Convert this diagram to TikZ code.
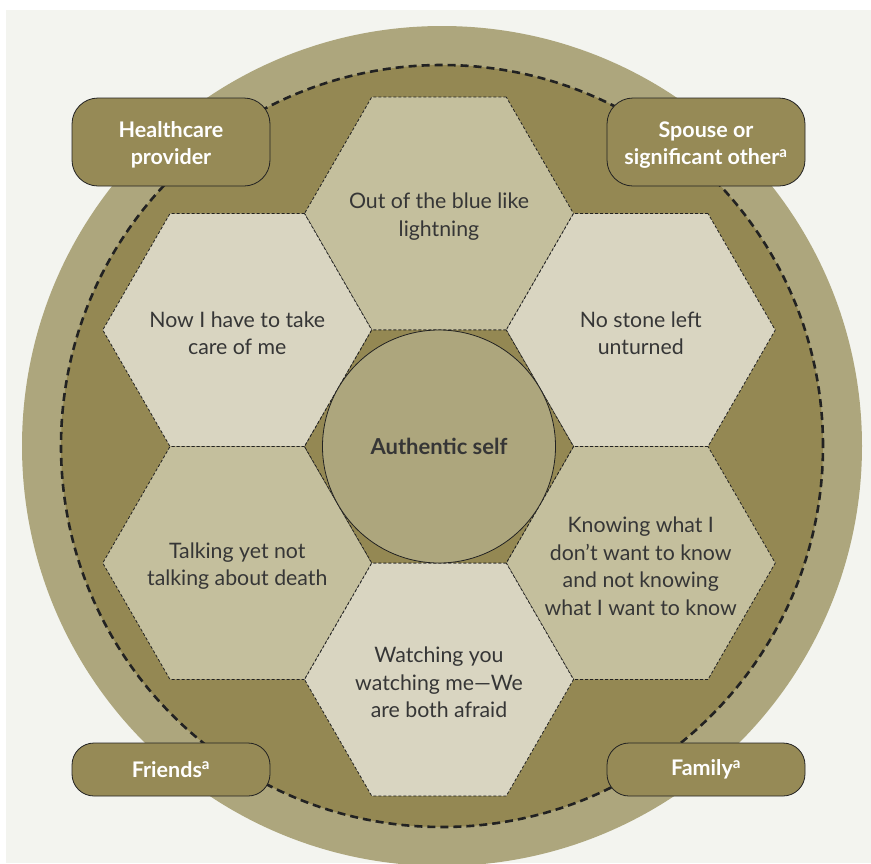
\documentclass[tikz,border=0pt]{standalone}
\usepackage{fontspec}
\setmainfont{Lato}
\usetikzlibrary{shapes.geometric}
\definecolor{bgc}{HTML}{F3F4EF}
\definecolor{ringc}{HTML}{ADA67D}
\definecolor{darkc}{HTML}{948853}
\definecolor{lighthex}{HTML}{D9D5C1}
\definecolor{medhex}{HTML}{C4BF9D}
\definecolor{boxc}{HTML}{968A56}
\definecolor{linec}{HTML}{222222}
\definecolor{txtc}{HTML}{363636}
\newcommand\boxstrut{\rule{0pt}{21.5pt}}
\tikzset{
  hexnode/.style={regular polygon, regular polygon sides=6, minimum size=269pt,
    inner sep=0pt, draw=linec, line width=0.8pt, dash pattern=on 3pt off 2pt},
  lighthexa/.style={hexnode, fill=lighthex},
  medhexa/.style={hexnode, fill=medhex},
  hextext/.style={align=center, text=txtc, inner sep=0pt, yshift=-3pt,
    font=\fontsize{21.3}{27.5}\selectfont},
  labelbox/.style={draw=linec, line width=0.8pt, fill=boxc, rounded corners=26pt,
    minimum width=198pt, align=center, text=white,
    font=\fontsize{21.5}{27.5}\selectfont\bfseries, inner sep=0pt}
}
\begin{document}
\begin{tikzpicture}[x=1pt,y=-1pt]
\useasboundingbox (0,0) rectangle (871,863);
\fill[bgc] (6,10) rectangle (871,863);
\begin{scope}
\clip (6,10) rectangle (871,863);
\fill[ringc] (442,446) circle[radius=420pt];
\end{scope}
\fill[darkc] (442,446) circle[radius=381pt];
\draw[linec, line width=2.6pt, dash pattern=on 8pt off 5pt] (442,446) circle[radius=381pt];
% hexagons
\node[medhexa]   (top) at (439,213.5) {};
\node[lighthexa] (ul)  at (237.25,330) {};
\node[lighthexa] (ur)  at (640.75,330) {};
\node[medhexa]   (ll)  at (237.25,563) {};
\node[medhexa]   (lr)  at (640.75,563) {};
\node[lighthexa] (bot) at (439,679.5) {};
\node[hexnode, fill=darkc] (mid) at (439,446.5) {};
\node[hextext] (topt) at (top.center) {Out of the blue like\\lightning};
\node[hextext] (ult) at (ul.center) {Now I have to take\\care of me};
\node[hextext] (urt) at (ur.center) {No stone left\\unturned};
\node[hextext] (llt) at (ll.center) {Talking yet not\\talking about death};
\node[hextext] (lrt) at (lr.center) {Knowing what I\\don’t want to know\\and not knowing\\what I want to know};
\node[hextext] (bott) at (bot.center) {Watching you\\watching me—We\\are both afraid};
\node[circle, draw=linec, line width=0.8pt, fill=ringc, minimum size=233pt, inner sep=0pt,
  text=txtc, font=\fontsize{22}{26}\selectfont\bfseries] (self) at (439,446.5) {Authentic self};
% label boxes
\node[labelbox, minimum height=88pt] (hc) at (171,142) {\boxstrut Healthcare\\provider};
\node[labelbox, minimum height=88pt] (sp) at (706,142) {\boxstrut Spouse or\\significant other\textsuperscript{a}};
\node[labelbox, minimum height=53pt, rounded corners=22pt] (fr) at (171,769.5) {Friends\textsuperscript{a}};
\node[labelbox, minimum height=53pt, rounded corners=22pt] (fa) at (706,769.5) {Family\textsuperscript{a}};
\end{tikzpicture}
\end{document}
